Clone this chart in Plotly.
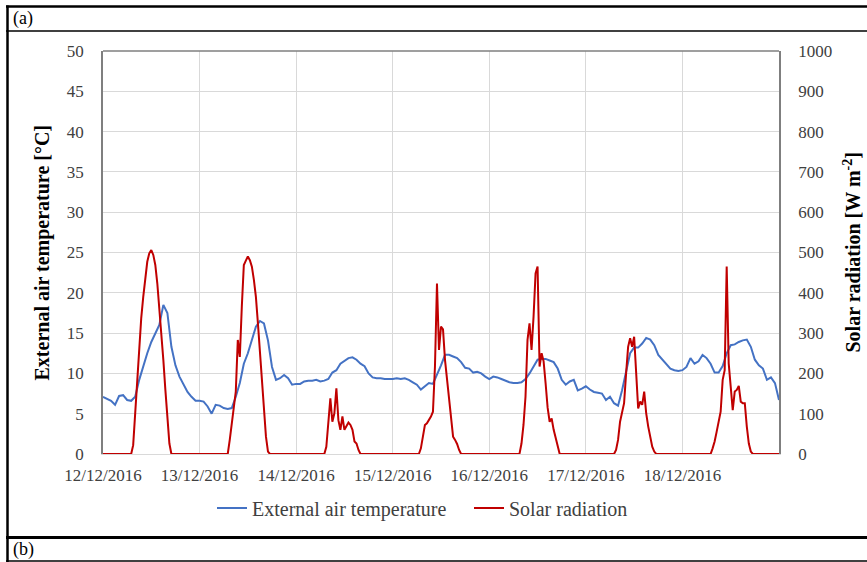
import pandas as pd
import plotly.graph_objects as go

# Hourly external air temperature [°C], 12/12/2016 00:00 -> 19/12/2016 00:00
temperature = [
    7.1, 6.8, 6.6, 6.1, 7.2, 7.3, 6.7, 6.6, 7.1, 9.2, 11.0, 12.5,
    13.9, 15.0, 16.0, 18.5, 17.5, 13.3, 11.0, 9.6, 8.6, 7.7, 7.1, 6.6,
    6.6, 6.5, 5.9, 5.0, 6.1, 6.0, 5.7, 5.6, 5.7, 7.1, 8.8, 11.2,
    12.5, 14.1, 15.8, 16.5, 16.2, 14.1, 10.8, 9.2, 9.4, 9.8, 9.4, 8.6,
    8.7, 8.7, 9.0, 9.1, 9.1, 9.2, 9.0, 9.1, 9.3, 10.1, 10.4, 11.2,
    11.6, 11.9, 12.0, 11.7, 11.2, 10.9, 10.0, 9.5, 9.4, 9.4, 9.3, 9.3,
    9.3, 9.4, 9.3, 9.4, 9.2, 8.9, 8.6, 8.0, 8.4, 8.8, 8.7, 9.8,
    11.0, 12.3, 12.3, 12.1, 11.9, 11.4, 10.7, 10.6, 10.1, 10.2, 10.0, 9.6,
    9.3, 9.6, 9.5, 9.3, 9.1, 8.9, 8.8, 8.8, 8.9, 9.3, 10.0, 10.8,
    11.7, 11.8, 11.8, 11.6, 11.4, 10.6, 9.2, 8.6, 9.0, 9.2, 7.9, 8.1,
    8.4, 8.0, 7.7, 7.6, 7.5, 6.7, 7.1, 6.3, 6.0, 7.9, 10.4, 12.5,
    13.2, 13.2, 13.7, 14.4, 14.2, 13.5, 12.3, 11.7, 11.2, 10.6, 10.4, 10.3,
    10.4, 10.8, 11.9, 11.2, 11.5, 12.3, 11.9, 11.2, 10.1, 10.1, 10.9, 12.5,
    13.5, 13.6, 13.9, 14.1, 14.2, 13.3, 11.7, 11.0, 10.6, 9.2, 9.5, 8.8,
    6.7,
]

# Half-hourly solar radiation [W m-2], same period
solar = [
    # 12/12
    0, 0, 0, 0, 0, 0, 0, 0, 0, 0, 0, 0, 0, 0, 0, 22, 101, 184, 266, 337, 390, 436, 477, 498,
    506, 494, 469, 423, 366, 299, 233, 159, 84, 26, 0, 0, 0, 0, 0, 0, 0, 0, 0, 0, 0, 0, 0, 0,
    # 13/12
    0, 0, 0, 0, 0, 0, 0, 0, 0, 0, 0, 0, 0, 0, 0, 35, 80, 117, 155, 283, 241, 366, 469, 480,
    490, 481, 465, 432, 390, 324, 258, 184, 109, 43, 6, 0, 0, 0, 0, 0, 0, 0, 0, 0, 0, 0, 0, 0,
    # 14/12
    0, 0, 0, 0, 0, 0, 0, 0, 0, 0, 0, 0, 0, 0, 0, 18, 84, 138, 80, 101, 163, 84, 60, 93,
    60, 68, 78, 72, 60, 31, 26, 10, 0, 0, 0, 0, 0, 0, 0, 0, 0, 0, 0, 0, 0, 0, 0, 0,
    # 15/12
    0, 0, 0, 0, 0, 0, 0, 0, 0, 0, 0, 0, 0, 0, 14, 39, 72, 76, 84, 93, 105, 217, 423, 258,
    316, 309, 233, 184, 134, 80, 43, 35, 25, 10, 0, 0, 0, 0, 0, 0, 0, 0, 0, 0, 0, 0, 0, 0,
    # 16/12
    0, 0, 0, 0, 0, 0, 0, 0, 0, 0, 0, 0, 0, 0, 0, 0, 26, 72, 142, 283, 324, 258, 341, 448,
    465, 217, 250, 230, 175, 115, 80, 88, 60, 38, 15, 0, 0, 0, 0, 0, 0, 0, 0, 0, 0, 0, 0, 0,
    # 17/12
    0, 0, 0, 0, 0, 0, 0, 0, 0, 0, 0, 0, 0, 0, 0, 10, 35, 80, 101, 126, 200, 266, 287, 266,
    291, 200, 113, 130, 122, 155, 101, 68, 43, 18, 6, 0, 0, 0, 0, 0, 0, 0, 0, 0, 0, 0, 0, 0,
    # 18/12
    0, 0, 0, 0, 0, 0, 0, 0, 0, 0, 0, 0, 0, 0, 0, 14, 31, 55, 80, 105, 184, 208, 465, 225,
    167, 109, 155, 159, 169, 130, 126, 126, 68, 26, 6, 0, 0, 0, 0, 0, 0, 0, 0, 0, 0, 0, 0, 0,
    # 19/12 00:00
    0,
]

day_ticks = ["2016-12-12", "2016-12-13", "2016-12-14", "2016-12-15",
             "2016-12-16", "2016-12-17", "2016-12-18"]
day_labels = ["12/12/2016", "13/12/2016", "14/12/2016", "15/12/2016",
              "16/12/2016", "17/12/2016", "18/12/2016"]

t_temp = pd.date_range("2016-12-12 00:00", periods=len(temperature), freq="h")
t_solar = pd.date_range("2016-12-12 00:00", periods=len(solar), freq="30min")

SERIF = "Liberation Serif"
TXT = "#404040"
GRID = "#d9d9d9"
AXIS = "#7f7f7f"

fig = go.Figure()
fig.add_trace(go.Scatter(
    x=t_temp, y=temperature, name="External air temperature",
    mode="lines", line=dict(color="#4472C4", width=2), yaxis="y",
))
fig.add_trace(go.Scatter(
    x=t_solar, y=solar, name="Solar radiation",
    mode="lines", line=dict(color="#C00000", width=2), yaxis="y2",
))

# pixel helpers for the plot frame (plot area: x 103..779, y 51..454)
PL, PR, PT, PB = 103, 779, 51, 454
W, H = PR - PL, PB - PT


def px(x):
    return (x - PL) / W


def py(y):
    return (PB - y) / H


shapes = [
    # plot area top edge
    dict(type="line", xref="paper", yref="paper", x0=0, x1=1, y0=1, y1=1,
         line=dict(color=AXIS, width=1.5)),
    # surrounding table rules
    dict(type="line", xref="paper", yref="paper", x0=px(6), x1=px(870), y0=py(6.5), y1=py(6.5),
         line=dict(color="black", width=2.5)),
    dict(type="line", xref="paper", yref="paper", x0=px(6), x1=px(870), y0=py(31), y1=py(31),
         line=dict(color="black", width=1.5)),
    dict(type="line", xref="paper", yref="paper", x0=px(6), x1=px(870), y0=py(537.5), y1=py(537.5),
         line=dict(color="black", width=3)),
    dict(type="line", xref="paper", yref="paper", x0=px(6), x1=px(870), y0=py(561), y1=py(561),
         line=dict(color="black", width=1.5)),
    dict(type="line", xref="paper", yref="paper", x0=px(7.5), x1=px(7.5), y0=py(5.5), y1=py(565),
         line=dict(color="black", width=2.5)),
]

annotations = [
    dict(text="(a)", xref="paper", yref="paper", x=px(11), y=py(19),
         xanchor="left", yanchor="middle", showarrow=False,
         font=dict(family=SERIF, size=18, color="black")),
    dict(text="(b)", xref="paper", yref="paper", x=px(11), y=py(549),
         xanchor="left", yanchor="middle", showarrow=False,
         font=dict(family=SERIF, size=18, color="black")),
    dict(text="<b>External air temperature [°C]</b>", xref="paper", yref="paper",
         x=px(42), y=0.5, xanchor="center", yanchor="middle", textangle=-90,
         showarrow=False, font=dict(family=SERIF, size=20, color="black")),
    dict(text="<b>Solar radiation [W m<sup>-2</sup>]</b>", xref="paper", yref="paper",
         x=px(851), y=0.5, xanchor="center", yanchor="middle", textangle=-90,
         showarrow=False, font=dict(family=SERIF, size=20, color="black")),
]

fig.update_layout(
    width=867, height=562,
    margin=dict(l=PL, r=867 - PR, t=PT, b=562 - PB, pad=0),
    paper_bgcolor="white", plot_bgcolor="white",
    font=dict(family=SERIF, size=17, color=TXT),
    showlegend=True,
    legend=dict(orientation="h", x=px(212), xanchor="left", y=py(508), yanchor="middle",
                font=dict(family=SERIF, size=20, color=TXT), itemwidth=30,
                entrywidth=212, entrywidthmode="pixels",
                bgcolor="rgba(0,0,0,0)"),
    xaxis=dict(
        type="date", range=["2016-12-12 00:00", "2016-12-19 00:00"],
        tickmode="array", tickvals=day_ticks, ticktext=day_labels,
        showgrid=True, gridcolor=GRID, gridwidth=1,
        showline=True, linecolor=GRID, linewidth=1,
        ticks="", ticklabelstandoff=6, zeroline=False,
        tickfont=dict(family=SERIF, size=17, color=TXT),
    ),
    yaxis=dict(
        range=[0, 50], dtick=5, tick0=0,
        showgrid=True, gridcolor=GRID, gridwidth=1,
        showline=True, linecolor=AXIS, linewidth=1.5,
        ticks="", ticklabelstandoff=14, zeroline=False,
        tickfont=dict(family=SERIF, size=17, color=TXT),
    ),
    yaxis2=dict(
        range=[0, 1000], dtick=100, tick0=0, overlaying="y", side="right",
        showgrid=False, showline=True, linecolor=AXIS, linewidth=1.5,
        ticks="", ticklabelstandoff=14, zeroline=False,
        tickfont=dict(family=SERIF, size=17, color=TXT),
    ),
    shapes=shapes,
    annotations=annotations,
)

fig.write_html("out.html")
